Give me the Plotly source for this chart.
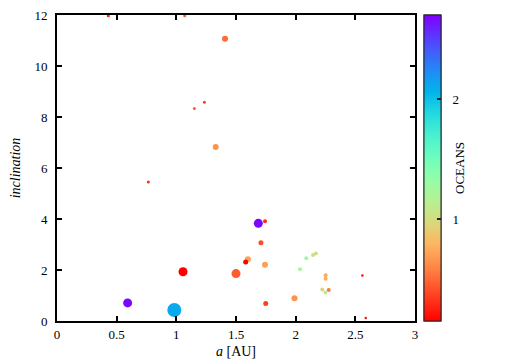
import numpy as np
import plotly.graph_objects as go

# semi-major axis [AU], inclination [deg], oceans, marker size
a_au = [0.43, 1.07, 1.408, 1.235, 1.151, 1.33, 0.765, 1.687, 1.743, 1.709,
        1.60, 1.581, 1.743, 1.056, 1.50, 2.089, 2.036, 2.145, 2.170, 2.251,
        2.251, 2.223, 2.249, 2.277, 2.559, 2.587, 1.99, 1.749, 0.592, 0.983]
incl = [11.97, 11.97, 11.07, 8.58, 8.33, 6.82, 5.45, 3.83, 3.91, 3.07,
        2.42, 2.31, 2.21, 1.93, 1.86, 2.46, 2.03, 2.59, 2.65, 1.79,
        1.66, 1.24, 1.12, 1.22, 1.78, 0.12, 0.89, 0.69, 0.71, 0.43]
oceans = [0.25, 0.45, 0.5, 0.35, 0.45, 0.65, 0.3, 2.68, 0.3, 0.4,
          0.7, 0.15, 0.7, 0.15, 0.45, 1.25, 1.25, 1.0, 1.0, 0.75,
          0.75, 0.95, 1.05, 0.55, 0.2, 0.2, 0.65, 0.35, 2.68, 2.1]
size = [3, 3, 6, 3, 3, 6, 3, 9, 4, 5,
        6, 5, 6, 9, 9, 4, 4, 4, 4, 4,
        4, 4, 4, 4, 2.5, 2.5, 6, 5, 9, 14]

x_ticks = [0, 0.5, 1, 1.5, 2, 2.5, 3]
y_ticks = [0, 2, 4, 6, 8, 10, 12]
cbar_ticks = [1, 2]

# gnuplot-like rainbow palette (rgbformulae 33,13,10), reversed
def palette(n=41):
    stops = []
    for t in np.linspace(0, 1, n):
        s = 1 - t
        r = min(1, abs(2 * s - 0.5))
        g = np.sin(np.pi * s)
        b = np.cos(np.pi * s / 2)
        stops.append([float(t), f"rgb({int(r*255)},{int(max(g,0)*255)},{int(max(b,0)*255)})"])
    return stops

FONT = "Liberation Serif, Times New Roman, serif"
cbar_base = dict(thickness=17, len=1, y=0.5, yanchor="middle", x=1.025, xanchor="left",
                 xpad=0, ypad=0, outlinecolor="#222", outlinewidth=1, tickvals=cbar_ticks)

fig = go.Figure(go.Scatter(
    x=a_au, y=incl, mode="markers",
    marker=dict(size=size, color=oceans, colorscale=palette(), cmin=0.15, cmax=2.7,
                line=dict(width=0), opacity=1, showscale=True,
                colorbar=dict(**cbar_base, ticks="outside", ticklen=9,
                              tickcolor="rgba(0,0,0,0)",
                              tickfont=dict(size=13, family=FONT, color="black"),
                              title=dict(text="OCEANS", side="right",
                                         font=dict(size=13, family=FONT, color="black")))),
    cliponaxis=False, showlegend=False, hoverinfo="x+y"
))
# invisible copy, only there to draw the inner tick dashes on the colour bar
fig.add_trace(go.Scatter(
    x=a_au, y=incl, mode="markers", showlegend=False, hoverinfo="skip",
    marker=dict(size=1, opacity=0, color=oceans, colorscale=palette(), cmin=0.15, cmax=2.7,
                showscale=True,
                colorbar=dict(**cbar_base, ticks="inside", ticklen=4, tickwidth=1.5,
                              tickcolor="#222", showticklabels=False))
))

axis_common = dict(showgrid=False, zeroline=False, showline=True, linecolor="black",
                   linewidth=2, mirror="ticks", ticks="inside", ticklen=5, tickwidth=1.5,
                   tickcolor="black", automargin=False,
                   tickfont=dict(size=13, family=FONT, color="black"))

# page body keeps an 8px margin, so the figure is 8px smaller and margins shifted
fig.update_layout(
    width=511, height=355,
    template="plotly_white",
    plot_bgcolor="white", paper_bgcolor="white",
    margin=dict(l=49, r=104, t=7, b=42),
    font=dict(family=FONT, color="black"),
    xaxis=dict(range=[0, 3], tickvals=x_ticks, ticktext=[str(v) for v in x_ticks],
               title=dict(text="<i>a</i> [AU]", font=dict(size=14), standoff=6), **axis_common),
    yaxis=dict(range=[0, 12], tickvals=y_ticks, ticklabelstandoff=5, ticklabeloverflow="allow",
               title=dict(text="<i>inclination</i>", font=dict(size=14), standoff=20), **axis_common),
)

fig.write_html("out.html")
